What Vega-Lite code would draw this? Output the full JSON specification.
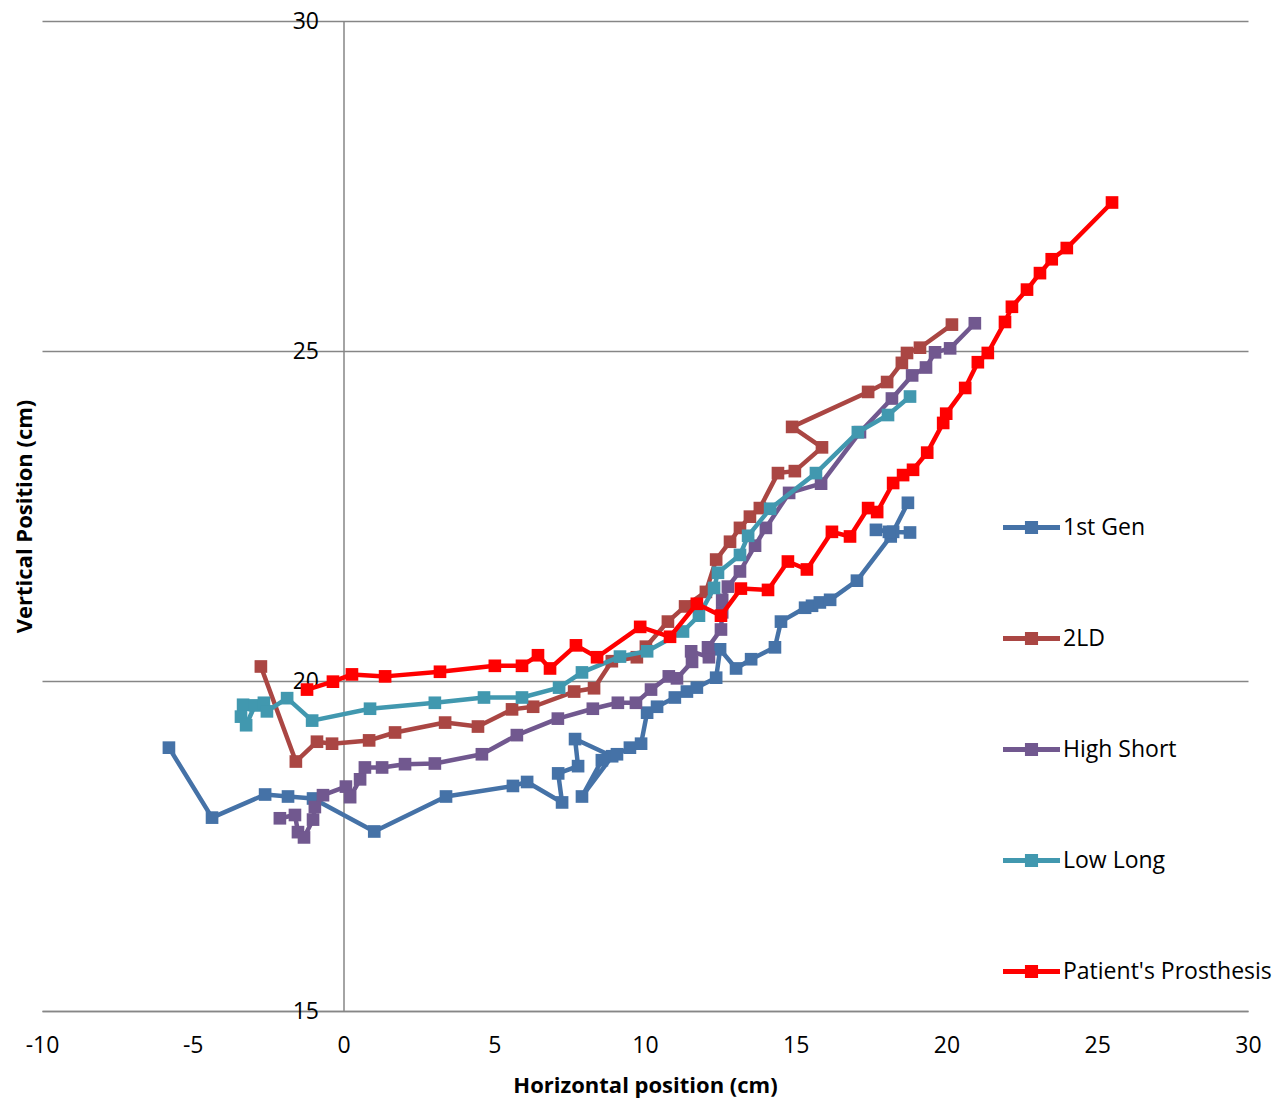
{
  "$schema": "https://vega.github.io/schema/vega-lite/v6.json",
  "width": 1206,
  "height": 990,
  "autosize": {"type": "none"},
  "padding": {"left": 42, "top": 21, "right": 40, "bottom": 90},
  "background": "white",
  "config": {
    "view": {"stroke": null},
    "font": "Open Sans",
    "axis": {
      "labelFont": "Open Sans",
      "labelFontSize": 23,
      "labelColor": "#000000",
      "labelFlush": false,
      "titleFont": "Open Sans",
      "titleFontSize": 22,
      "titleFontWeight": "bold",
      "titleColor": "#000000",
      "domainColor": "#868686",
      "domainWidth": 1.5,
      "gridColor": "#868686",
      "gridWidth": 1.5,
      "ticks": false
    }
  },
  "datasets": {
    "traces": [
      {"s": "1st Gen", "i": 1, "x": -5.79, "y": 18.99},
      {"s": "1st Gen", "i": 2, "x": -4.36, "y": 17.93},
      {"s": "1st Gen", "i": 3, "x": -2.60, "y": 18.28},
      {"s": "1st Gen", "i": 4, "x": -1.84, "y": 18.25},
      {"s": "1st Gen", "i": 5, "x": -1.01, "y": 18.22},
      {"s": "1st Gen", "i": 6, "x": 1.02, "y": 17.72},
      {"s": "1st Gen", "i": 7, "x": 3.40, "y": 18.25},
      {"s": "1st Gen", "i": 8, "x": 5.62, "y": 18.41},
      {"s": "1st Gen", "i": 9, "x": 6.09, "y": 18.47},
      {"s": "1st Gen", "i": 10, "x": 7.25, "y": 18.16},
      {"s": "1st Gen", "i": 11, "x": 7.12, "y": 18.60},
      {"s": "1st Gen", "i": 12, "x": 7.78, "y": 18.71},
      {"s": "1st Gen", "i": 13, "x": 7.68, "y": 19.12},
      {"s": "1st Gen", "i": 14, "x": 8.91, "y": 18.86},
      {"s": "1st Gen", "i": 15, "x": 7.91, "y": 18.25},
      {"s": "1st Gen", "i": 16, "x": 8.57, "y": 18.80},
      {"s": "1st Gen", "i": 17, "x": 9.07, "y": 18.89},
      {"s": "1st Gen", "i": 18, "x": 9.50, "y": 18.99},
      {"s": "1st Gen", "i": 19, "x": 9.87, "y": 19.05},
      {"s": "1st Gen", "i": 20, "x": 10.07, "y": 19.52},
      {"s": "1st Gen", "i": 21, "x": 10.40, "y": 19.61},
      {"s": "1st Gen", "i": 22, "x": 10.99, "y": 19.75},
      {"s": "1st Gen", "i": 23, "x": 11.39, "y": 19.84},
      {"s": "1st Gen", "i": 24, "x": 11.72, "y": 19.90},
      {"s": "1st Gen", "i": 25, "x": 12.36, "y": 20.05},
      {"s": "1st Gen", "i": 26, "x": 12.49, "y": 20.48},
      {"s": "1st Gen", "i": 27, "x": 13.02, "y": 20.19},
      {"s": "1st Gen", "i": 28, "x": 13.52, "y": 20.33},
      {"s": "1st Gen", "i": 29, "x": 14.31, "y": 20.51},
      {"s": "1st Gen", "i": 30, "x": 14.51, "y": 20.90},
      {"s": "1st Gen", "i": 31, "x": 15.31, "y": 21.11},
      {"s": "1st Gen", "i": 32, "x": 15.54, "y": 21.14},
      {"s": "1st Gen", "i": 33, "x": 15.80, "y": 21.19},
      {"s": "1st Gen", "i": 34, "x": 16.14, "y": 21.23},
      {"s": "1st Gen", "i": 35, "x": 17.03, "y": 21.52},
      {"s": "1st Gen", "i": 36, "x": 18.15, "y": 22.19},
      {"s": "1st Gen", "i": 37, "x": 18.72, "y": 22.70},
      {"s": "1st Gen", "i": 38, "x": 18.23, "y": 22.26},
      {"s": "1st Gen", "i": 39, "x": 17.66, "y": 22.29},
      {"s": "1st Gen", "i": 40, "x": 18.09, "y": 22.26},
      {"s": "1st Gen", "i": 41, "x": 18.79, "y": 22.25},

      {"s": "2LD", "i": 1, "x": -2.74, "y": 20.22},
      {"s": "2LD", "i": 2, "x": -1.58, "y": 18.78},
      {"s": "2LD", "i": 3, "x": -0.88, "y": 19.08},
      {"s": "2LD", "i": 4, "x": -0.38, "y": 19.05},
      {"s": "2LD", "i": 5, "x": 0.85, "y": 19.10},
      {"s": "2LD", "i": 6, "x": 1.71, "y": 19.22},
      {"s": "2LD", "i": 7, "x": 3.37, "y": 19.37},
      {"s": "2LD", "i": 8, "x": 4.46, "y": 19.31},
      {"s": "2LD", "i": 9, "x": 5.59, "y": 19.57},
      {"s": "2LD", "i": 10, "x": 6.29, "y": 19.61},
      {"s": "2LD", "i": 11, "x": 7.65, "y": 19.84},
      {"s": "2LD", "i": 12, "x": 8.31, "y": 19.89},
      {"s": "2LD", "i": 13, "x": 8.90, "y": 20.30},
      {"s": "2LD", "i": 14, "x": 9.73, "y": 20.36},
      {"s": "2LD", "i": 15, "x": 10.03, "y": 20.52},
      {"s": "2LD", "i": 16, "x": 10.76, "y": 20.90},
      {"s": "2LD", "i": 17, "x": 11.33, "y": 21.13},
      {"s": "2LD", "i": 18, "x": 12.02, "y": 21.35},
      {"s": "2LD", "i": 19, "x": 12.36, "y": 21.84},
      {"s": "2LD", "i": 20, "x": 12.82, "y": 22.11},
      {"s": "2LD", "i": 21, "x": 13.15, "y": 22.32},
      {"s": "2LD", "i": 22, "x": 13.48, "y": 22.49},
      {"s": "2LD", "i": 23, "x": 13.81, "y": 22.62},
      {"s": "2LD", "i": 24, "x": 14.41, "y": 23.15},
      {"s": "2LD", "i": 25, "x": 14.97, "y": 23.18},
      {"s": "2LD", "i": 26, "x": 15.87, "y": 23.54},
      {"s": "2LD", "i": 27, "x": 14.88, "y": 23.85},
      {"s": "2LD", "i": 28, "x": 17.40, "y": 24.38},
      {"s": "2LD", "i": 29, "x": 18.03, "y": 24.53},
      {"s": "2LD", "i": 30, "x": 18.52, "y": 24.82},
      {"s": "2LD", "i": 31, "x": 18.69, "y": 24.97},
      {"s": "2LD", "i": 32, "x": 19.12, "y": 25.05},
      {"s": "2LD", "i": 33, "x": 20.18, "y": 25.40},

      {"s": "High Short", "i": 1, "x": -2.11, "y": 17.92},
      {"s": "High Short", "i": 2, "x": -1.61, "y": 17.97},
      {"s": "High Short", "i": 3, "x": -1.51, "y": 17.71},
      {"s": "High Short", "i": 4, "x": -1.31, "y": 17.63},
      {"s": "High Short", "i": 5, "x": -1.01, "y": 17.90},
      {"s": "High Short", "i": 6, "x": -0.95, "y": 18.09},
      {"s": "High Short", "i": 7, "x": -0.68, "y": 18.27},
      {"s": "High Short", "i": 8, "x": 0.08, "y": 18.40},
      {"s": "High Short", "i": 9, "x": 0.22, "y": 18.24},
      {"s": "High Short", "i": 10, "x": 0.55, "y": 18.51},
      {"s": "High Short", "i": 11, "x": 0.71, "y": 18.69},
      {"s": "High Short", "i": 12, "x": 1.28, "y": 18.69},
      {"s": "High Short", "i": 13, "x": 2.04, "y": 18.74},
      {"s": "High Short", "i": 14, "x": 3.03, "y": 18.75},
      {"s": "High Short", "i": 15, "x": 4.59, "y": 18.89},
      {"s": "High Short", "i": 16, "x": 5.75, "y": 19.18},
      {"s": "High Short", "i": 17, "x": 7.11, "y": 19.43},
      {"s": "High Short", "i": 18, "x": 8.27, "y": 19.58},
      {"s": "High Short", "i": 19, "x": 9.10, "y": 19.67},
      {"s": "High Short", "i": 20, "x": 9.70, "y": 19.67},
      {"s": "High Short", "i": 21, "x": 10.20, "y": 19.87},
      {"s": "High Short", "i": 22, "x": 10.79, "y": 20.07},
      {"s": "High Short", "i": 23, "x": 11.06, "y": 20.04},
      {"s": "High Short", "i": 24, "x": 11.56, "y": 20.29},
      {"s": "High Short", "i": 25, "x": 11.53, "y": 20.45},
      {"s": "High Short", "i": 26, "x": 12.12, "y": 20.36},
      {"s": "High Short", "i": 27, "x": 12.09, "y": 20.51},
      {"s": "High Short", "i": 28, "x": 12.52, "y": 20.78},
      {"s": "High Short", "i": 29, "x": 12.56, "y": 21.04},
      {"s": "High Short", "i": 30, "x": 12.56, "y": 21.23},
      {"s": "High Short", "i": 31, "x": 12.75, "y": 21.43},
      {"s": "High Short", "i": 32, "x": 13.15, "y": 21.66},
      {"s": "High Short", "i": 33, "x": 13.65, "y": 22.05},
      {"s": "High Short", "i": 34, "x": 14.01, "y": 22.32},
      {"s": "High Short", "i": 35, "x": 14.78, "y": 22.85},
      {"s": "High Short", "i": 36, "x": 15.84, "y": 22.99},
      {"s": "High Short", "i": 37, "x": 17.13, "y": 23.77},
      {"s": "High Short", "i": 38, "x": 18.19, "y": 24.28},
      {"s": "High Short", "i": 39, "x": 18.86, "y": 24.63},
      {"s": "High Short", "i": 40, "x": 19.32, "y": 24.75},
      {"s": "High Short", "i": 41, "x": 19.62, "y": 24.98},
      {"s": "High Short", "i": 42, "x": 20.12, "y": 25.04},
      {"s": "High Short", "i": 43, "x": 20.94, "y": 25.42},

      {"s": "Low Long", "i": 1, "x": -3.33, "y": 19.64},
      {"s": "Low Long", "i": 2, "x": -3.40, "y": 19.46},
      {"s": "Low Long", "i": 3, "x": -3.23, "y": 19.33},
      {"s": "Low Long", "i": 4, "x": -2.94, "y": 19.63},
      {"s": "Low Long", "i": 5, "x": -2.64, "y": 19.67},
      {"s": "Low Long", "i": 6, "x": -2.54, "y": 19.54},
      {"s": "Low Long", "i": 7, "x": -1.87, "y": 19.74},
      {"s": "Low Long", "i": 8, "x": -1.04, "y": 19.40},
      {"s": "Low Long", "i": 9, "x": 0.88, "y": 19.58},
      {"s": "Low Long", "i": 10, "x": 3.03, "y": 19.67},
      {"s": "Low Long", "i": 11, "x": 4.66, "y": 19.75},
      {"s": "Low Long", "i": 12, "x": 5.92, "y": 19.75},
      {"s": "Low Long", "i": 13, "x": 7.15, "y": 19.90},
      {"s": "Low Long", "i": 14, "x": 7.91, "y": 20.13},
      {"s": "Low Long", "i": 15, "x": 9.17, "y": 20.37},
      {"s": "Low Long", "i": 16, "x": 10.07, "y": 20.45},
      {"s": "Low Long", "i": 17, "x": 11.26, "y": 20.75},
      {"s": "Low Long", "i": 18, "x": 11.79, "y": 20.99},
      {"s": "Low Long", "i": 19, "x": 12.29, "y": 21.41},
      {"s": "Low Long", "i": 20, "x": 12.42, "y": 21.64},
      {"s": "Low Long", "i": 21, "x": 13.15, "y": 21.91},
      {"s": "Low Long", "i": 22, "x": 13.42, "y": 22.20},
      {"s": "Low Long", "i": 23, "x": 14.15, "y": 22.61},
      {"s": "Low Long", "i": 24, "x": 15.67, "y": 23.15},
      {"s": "Low Long", "i": 25, "x": 17.06, "y": 23.77},
      {"s": "Low Long", "i": 26, "x": 18.06, "y": 24.03},
      {"s": "Low Long", "i": 27, "x": 18.79, "y": 24.31},

      {"s": "Patient's Prosthesis", "i": 1, "x": -1.21, "y": 19.87},
      {"s": "Patient's Prosthesis", "i": 2, "x": -0.35, "y": 19.99},
      {"s": "Patient's Prosthesis", "i": 3, "x": 0.28, "y": 20.10},
      {"s": "Patient's Prosthesis", "i": 4, "x": 1.38, "y": 20.07},
      {"s": "Patient's Prosthesis", "i": 5, "x": 3.20, "y": 20.14},
      {"s": "Patient's Prosthesis", "i": 6, "x": 5.02, "y": 20.23},
      {"s": "Patient's Prosthesis", "i": 7, "x": 5.92, "y": 20.23},
      {"s": "Patient's Prosthesis", "i": 8, "x": 6.45, "y": 20.39},
      {"s": "Patient's Prosthesis", "i": 9, "x": 6.85, "y": 20.19},
      {"s": "Patient's Prosthesis", "i": 10, "x": 7.71, "y": 20.54},
      {"s": "Patient's Prosthesis", "i": 11, "x": 8.41, "y": 20.36},
      {"s": "Patient's Prosthesis", "i": 12, "x": 9.84, "y": 20.82},
      {"s": "Patient's Prosthesis", "i": 13, "x": 10.83, "y": 20.67},
      {"s": "Patient's Prosthesis", "i": 14, "x": 11.72, "y": 21.17},
      {"s": "Patient's Prosthesis", "i": 15, "x": 12.52, "y": 20.99},
      {"s": "Patient's Prosthesis", "i": 16, "x": 13.18, "y": 21.40},
      {"s": "Patient's Prosthesis", "i": 17, "x": 14.08, "y": 21.38},
      {"s": "Patient's Prosthesis", "i": 18, "x": 14.74, "y": 21.81},
      {"s": "Patient's Prosthesis", "i": 19, "x": 15.37, "y": 21.69},
      {"s": "Patient's Prosthesis", "i": 20, "x": 16.20, "y": 22.26},
      {"s": "Patient's Prosthesis", "i": 21, "x": 16.80, "y": 22.19},
      {"s": "Patient's Prosthesis", "i": 22, "x": 17.40, "y": 22.62},
      {"s": "Patient's Prosthesis", "i": 23, "x": 17.70, "y": 22.56},
      {"s": "Patient's Prosthesis", "i": 24, "x": 18.23, "y": 23.00},
      {"s": "Patient's Prosthesis", "i": 25, "x": 18.56, "y": 23.12},
      {"s": "Patient's Prosthesis", "i": 26, "x": 18.89, "y": 23.20},
      {"s": "Patient's Prosthesis", "i": 27, "x": 19.36, "y": 23.46},
      {"s": "Patient's Prosthesis", "i": 28, "x": 19.89, "y": 23.91},
      {"s": "Patient's Prosthesis", "i": 29, "x": 19.99, "y": 24.05},
      {"s": "Patient's Prosthesis", "i": 30, "x": 20.62, "y": 24.44},
      {"s": "Patient's Prosthesis", "i": 31, "x": 21.04, "y": 24.83},
      {"s": "Patient's Prosthesis", "i": 32, "x": 21.37, "y": 24.97},
      {"s": "Patient's Prosthesis", "i": 33, "x": 21.94, "y": 25.44},
      {"s": "Patient's Prosthesis", "i": 34, "x": 22.17, "y": 25.67},
      {"s": "Patient's Prosthesis", "i": 35, "x": 22.67, "y": 25.93},
      {"s": "Patient's Prosthesis", "i": 36, "x": 23.10, "y": 26.18},
      {"s": "Patient's Prosthesis", "i": 37, "x": 23.49, "y": 26.39},
      {"s": "Patient's Prosthesis", "i": 38, "x": 23.99, "y": 26.56},
      {"s": "Patient's Prosthesis", "i": 39, "x": 25.49, "y": 27.25}
    ]
  },
  "data": {"name": "traces"},
  "encoding": {
    "x": {
      "field": "x",
      "type": "quantitative",
      "scale": {"domain": [-10, 30], "nice": false, "zero": false},
      "axis": {
        "title": "Horizontal position (cm)",
        "values": [-10, -5, 0, 5, 10, 15, 20, 25, 30],
        "labelExpr": "'' + datum.value",
        "grid": false,
        "labelPadding": 23,
        "titlePadding": 18
      }
    },
    "y": {
      "field": "y",
      "type": "quantitative",
      "scale": {"domain": [15, 30], "nice": false, "zero": false},
      "axis": {
        "title": "Vertical Position (cm)",
        "values": [15, 20, 25, 30],
        "grid": true,
        "offset": -301.5,
        "labelPadding": 25,
        "titleX": -319,
        "titleY": 495,
        "titleBaseline": "middle",
        "titleAlign": "center",
        "titleAngle": -90
      }
    },
    "order": {"field": "i", "type": "quantitative"},
    "color": {
      "field": "s",
      "type": "nominal",
      "scale": {
        "domain": ["1st Gen", "2LD", "High Short", "Low Long", "Patient's Prosthesis"],
        "range": ["#4572A7", "#AA4643", "#71588F", "#4198AF", "#FF0000"]
      },
      "legend": {
        "title": null,
        "orient": "none",
        "legendX": 961,
        "legendY": 478,
        "padding": 0,
        "symbolType": "M-1,-0.09H1V0.09H-1Z M-0.23,-0.23H0.23V0.23H-0.23Z",
        "symbolSize": 3249,
        "symbolStrokeWidth": 0,
        "symbolOpacity": 1,
        "labelFont": "Open Sans",
        "labelFontSize": 23,
        "labelColor": "#000000",
        "labelOffset": 3,
        "labelLimit": 400,
        "rowPadding": 70,
        "encode": {
          "symbols": {
            "update": {
              "fill": {"scale": "color", "field": "value"},
              "stroke": {"value": "transparent"},
              "strokeWidth": {"value": 0},
              "opacity": {"value": 1}
            }
          }
        }
      }
    }
  },
  "layer": [
    {
      "transform": [{"filter": "datum.s === '1st Gen'"}],
      "mark": {"type": "line", "strokeWidth": 4.5, "strokeJoin": "round", "strokeCap": "round"}
    },
    {
      "transform": [{"filter": "datum.s === '1st Gen'"}],
      "mark": {"type": "point", "shape": "square", "filled": true, "size": 160, "opacity": 1}
    },
    {
      "transform": [{"filter": "datum.s === '2LD'"}],
      "mark": {"type": "line", "strokeWidth": 4.5, "strokeJoin": "round", "strokeCap": "round"}
    },
    {
      "transform": [{"filter": "datum.s === '2LD'"}],
      "mark": {"type": "point", "shape": "square", "filled": true, "size": 160, "opacity": 1}
    },
    {
      "transform": [{"filter": "datum.s === 'High Short'"}],
      "mark": {"type": "line", "strokeWidth": 4.5, "strokeJoin": "round", "strokeCap": "round"}
    },
    {
      "transform": [{"filter": "datum.s === 'High Short'"}],
      "mark": {"type": "point", "shape": "square", "filled": true, "size": 160, "opacity": 1}
    },
    {
      "transform": [{"filter": "datum.s === 'Low Long'"}],
      "mark": {"type": "line", "strokeWidth": 4.5, "strokeJoin": "round", "strokeCap": "round"}
    },
    {
      "transform": [{"filter": "datum.s === 'Low Long'"}],
      "mark": {"type": "point", "shape": "square", "filled": true, "size": 160, "opacity": 1}
    },
    {
      "transform": [{"filter": "datum.s === \"Patient's Prosthesis\""}],
      "mark": {"type": "line", "strokeWidth": 4.5, "strokeJoin": "round", "strokeCap": "round"}
    },
    {
      "transform": [{"filter": "datum.s === \"Patient's Prosthesis\""}],
      "mark": {"type": "point", "shape": "square", "filled": true, "size": 160, "opacity": 1}
    }
  ]
}
